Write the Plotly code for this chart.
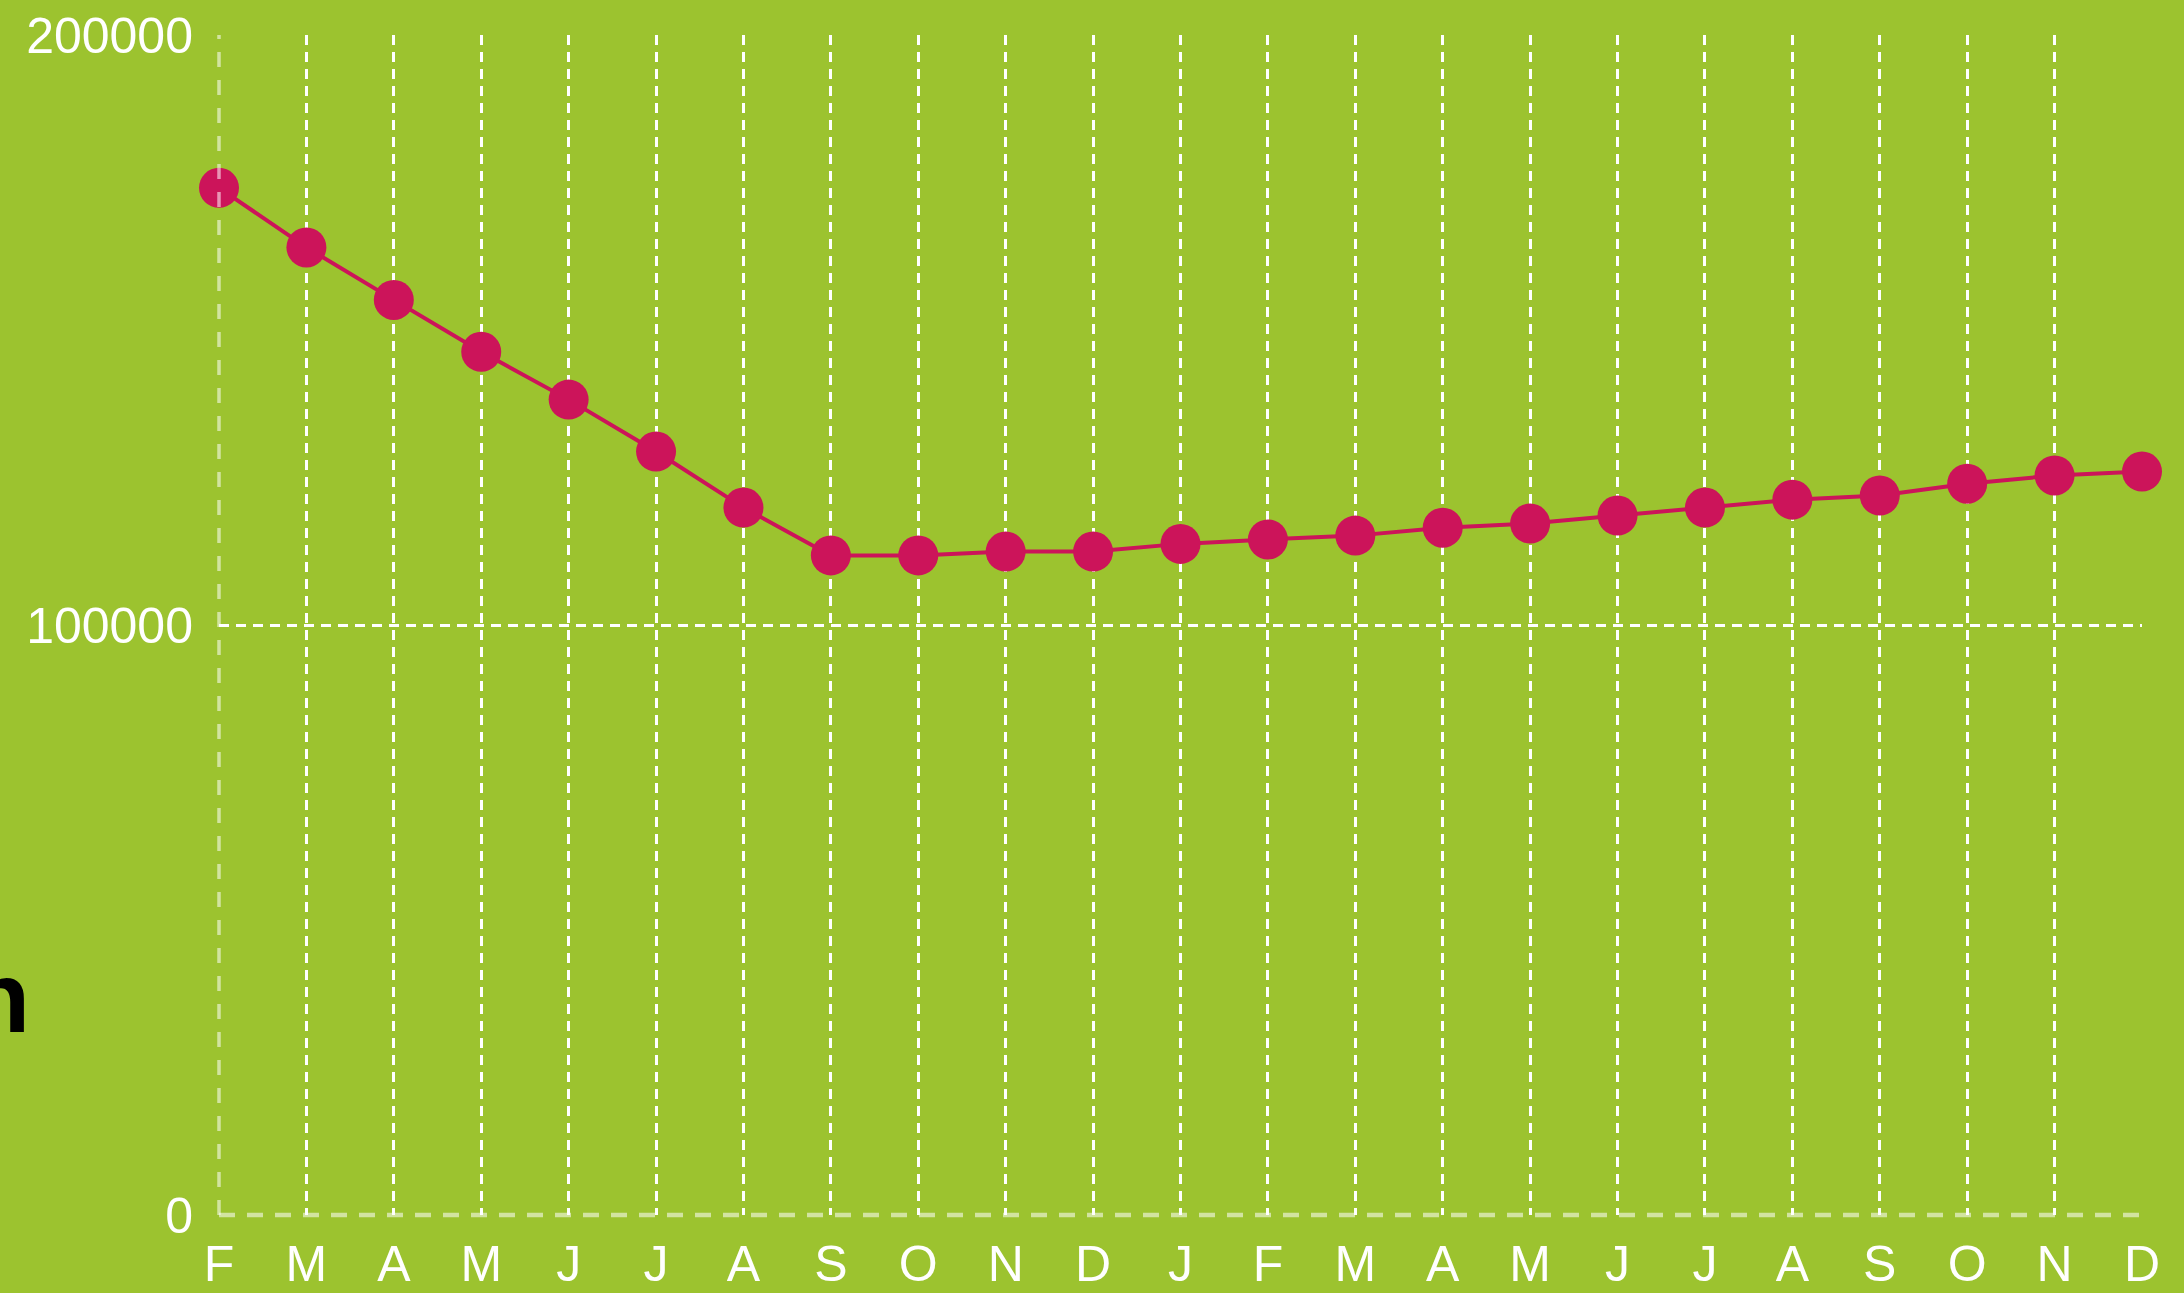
import plotly.graph_objects as go

# Data
months = ["F", "M", "A", "M", "J", "J", "A", "S", "O", "N", "D",
          "J", "F", "M", "A", "M", "J", "J", "A", "S", "O", "N", "D"]
values = [174100, 164000, 155100, 146300, 138200, 129400, 119900, 111800,
          111800, 112450, 112450, 113750, 114500, 115150, 116500, 117200,
          118550, 119900, 121250, 121950, 123950, 125350, 126000]
y_ticks = [0, 100000, 200000]

BG = "#9cc32f"
LINE = "#cc145a"
FONT = "Liberation Sans, Arial, sans-serif"

x = list(range(len(months)))

fig = go.Figure()
fig.add_trace(go.Scatter(
    x=x, y=values, mode="lines+markers",
    line=dict(color=LINE, width=4),
    marker=dict(color=LINE, size=40, line=dict(width=0)),
    cliponaxis=False, showlegend=False, hoverinfo="skip",
))

fig.update_layout(
    width=2184, height=1293,
    paper_bgcolor=BG, plot_bgcolor=BG,
    margin=dict(l=219, r=42, t=35, b=78, autoexpand=False),
    font=dict(family=FONT, color="white", size=50),
    xaxis=dict(
        range=[0, len(months) - 1], automargin=False,
        tickmode="array", tickvals=x, ticktext=months,
        showgrid=True, gridcolor="white", gridwidth=2.5, griddash="10px,7px",
        zeroline=False, showline=False, ticks="",
        tickfont=dict(size=50, color="white", family=FONT),
        ticklabelstandoff=15,
    ),
    yaxis=dict(
        range=[0, 200000], automargin=False,
        tickmode="array", tickvals=y_ticks, ticktext=[str(v) for v in y_ticks],
        showgrid=True, gridcolor="white", gridwidth=2.5, griddash="10px,7px",
        zeroline=False, showline=False, ticks="",
        tickfont=dict(size=50, color="white", family=FONT),
        ticklabelstandoff=25,
    ),
    shapes=[
        dict(type="line", xref="paper", yref="paper", x0=0, x1=1, y0=0, y1=0,
             line=dict(color="rgba(255,255,255,0.55)", width=4.5, dash="16px,12px"),
             layer="above"),
        dict(type="line", xref="paper", yref="paper", x0=0, x1=0, y0=0, y1=1,
             line=dict(color="rgba(255,255,255,0.55)", width=3.5, dash="15px,13px"),
             layer="above"),
    ],
    annotations=[
        dict(text="<b>n</b>", xref="paper", yref="paper",
             x=-0.0972, y=0.185, xanchor="right", yanchor="middle",
             showarrow=False, font=dict(size=100, color="black", family=FONT)),
    ],
)

fig.write_html(
    "out.html",
    config={"displayModeBar": False},
    post_script="document.body.style.margin='0';document.body.style.padding='0';"
                "document.body.style.overflow='hidden';",
)
